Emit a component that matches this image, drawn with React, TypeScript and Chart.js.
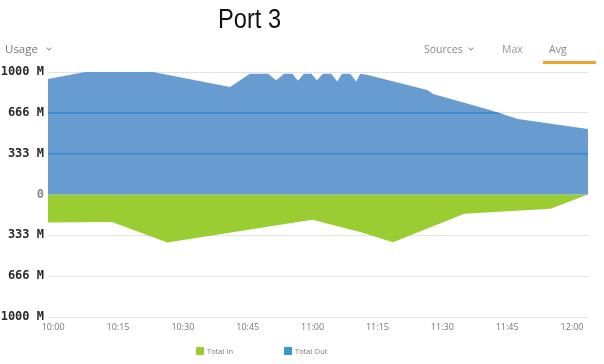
import React, { useEffect, useRef } from "react";
import { Chart, registerables } from "chart.js";

Chart.register(...registerables);

// Minutes after 10:00 for each sample of "Total Out"
const outMinutes = [-1.2, 7.4, 23.1, 40.9, 45.5, 49.7, 51.6, 53.4, 55.3, 56.6, 58.0, 59.7, 61.0, 62.4, 64.3, 65.7, 66.8, 68.7, 70.1, 71.0, 72.8, 86.5, 87.9, 101.0, 107.5, 123.7];
const outValues = [943, 1000, 1000, 878, 985, 985, 932, 985, 985, 928, 985, 985, 932, 985, 985, 922, 985, 985, 922, 985, 975, 853, 820, 690, 616, 535];

// Minutes after 10:00 for each sample of "Total In" (drawn downward)
const inMinutes = [-1.2, 13.6, 26.4, 59.9, 70.8, 78.6, 95.1, 115.0, 123.7];
const inValues = [-228, -225, -392, -207, -305, -390, -158, -116, 0];

const xTickMinutes = [0, 15, 30, 45, 60, 75, 90, 105, 120];
const xTickLabels = ["10:00", "10:15", "10:30", "10:45", "11:00", "11:15", "11:30", "11:45", "12:00"];

const yTickValues = [-1000, -666, -333, 0, 333, 666, 1000];
const yTickLabels = ["1000 M", "666 M", "333 M", "0", "333 M", "666 M", "1000 M"];
const yLineValues = [333, 666];

const seriesNames = ["Total In", "Total Out"];

const OUT_FILL = "#689cd0";
const IN_FILL = "#9acd32";
const OUT_LINE = "#3f8dcc";

// Grid lines that show as darker blue strokes inside the "Total Out" area only
const gridInsideOut = {
  id: "gridInsideOut",
  afterDatasetsDraw(chart: any) {
    const meta = chart.getDatasetMeta(0);
    const pts = meta.data;
    if (!pts || !pts.length) return;
    const y = chart.scales.y;
    const area = chart.chartArea;
    const base = y.getPixelForValue(0);
    const ctx = chart.ctx;
    ctx.save();
    ctx.beginPath();
    ctx.moveTo(pts[0].x, base);
    for (const p of pts) ctx.lineTo(p.x, p.y);
    ctx.lineTo(pts[pts.length - 1].x, base);
    ctx.closePath();
    ctx.clip();
    ctx.strokeStyle = OUT_LINE;
    ctx.lineWidth = 2;
    for (const v of yLineValues) {
      const py = y.getPixelForValue(v);
      ctx.beginPath();
      ctx.moveTo(area.left, py);
      ctx.lineTo(area.right, py);
      ctx.stroke();
    }
    ctx.restore();
  },
};

export default function App() {
  const ref = useRef<HTMLCanvasElement>(null);

  useEffect(() => {
    const chart = new Chart(ref.current!, {
      type: "line",
      data: {
        datasets: [
          {
            label: seriesNames[1],
            data: outMinutes.map((m, i) => ({ x: m, y: outValues[i] })),
            backgroundColor: OUT_FILL,
            borderWidth: 0,
            pointRadius: 0,
            fill: "origin",
            tension: 0,
          },
          {
            label: seriesNames[0],
            data: inMinutes.map((m, i) => ({ x: m, y: inValues[i] })),
            backgroundColor: IN_FILL,
            borderWidth: 0,
            pointRadius: 0,
            fill: "origin",
            tension: 0,
          },
        ],
      },
      options: {
        responsive: false,
        animation: false,
        devicePixelRatio: 1,
        layout: { padding: { top: 72, right: 16, bottom: 27, left: 0 } },
        plugins: {
          legend: { display: false },
          title: { display: false },
          tooltip: { enabled: false },
        },
        scales: {
          x: {
            type: "linear",
            min: -1.2,
            max: 123.7,
            afterBuildTicks: (s: any) => {
              s.ticks = xTickMinutes.map((v) => ({ value: v }));
            },
            afterFit: (s: any) => {
              s.height = 20;
            },
            grid: { display: false, drawTicks: false },
            border: { display: false },
            ticks: {
              padding: 5,
              maxRotation: 0,
              autoSkip: false,
              color: "#777",
              font: { family: "'Open Sans', sans-serif", size: 9 },
              callback: (v: any) => {
                const i = xTickMinutes.indexOf(Number(v));
                return i >= 0 ? xTickLabels[i] : "";
              },
            },
          },
          y: {
            type: "linear",
            min: -1000,
            max: 1000,
            afterBuildTicks: (s: any) => {
              s.ticks = yTickValues.map((v) => ({ value: v }));
            },
            afterFit: (s: any) => {
              s.width = 48;
            },
            border: { display: false },
            grid: {
              drawTicks: false,
              z: -1,
              color: (ctx: any) => (ctx.tick && ctx.tick.value === 0 ? "rgba(0,0,0,0)" : "#e4e4e4"),
              lineWidth: 1,
            },
            ticks: {
              padding: 4,
              color: (ctx: any) => (ctx.tick && ctx.tick.value === 0 ? "#888" : "#2a2a2a"),
              font: { family: "'DejaVu Sans Mono', monospace", size: 12, weight: "bold" },
              callback: (v: any) => {
                const i = yTickValues.indexOf(Number(v));
                return i >= 0 ? yTickLabels[i] : "";
              },
            },
          },
        },
      },
      plugins: [gridInsideOut],
    } as any);
    return () => chart.destroy();
  }, []);

  const small: React.CSSProperties = {
    position: "absolute",
    fontFamily: "'Open Sans', sans-serif",
    whiteSpace: "nowrap",
  };

  const chevron = (left: number, top: number): React.CSSProperties => ({
    position: "absolute",
    left,
    top,
    width: 3,
    height: 3,
    borderRight: "1.2px solid #999",
    borderBottom: "1.2px solid #999",
    transform: "rotate(45deg)",
  });

  return (
    <div
      style={{
        position: "absolute",
        left: 0,
        top: 0,
        width: 604,
        height: 364,
        background: "#fff",
        overflow: "hidden",
      }}
    >
      <canvas
        ref={ref}
        width={604}
        height={364}
        style={{ position: "absolute", left: 0, top: 0, width: 604, height: 364 }}
      />
      <div
        style={{
          position: "absolute",
          left: 218,
          top: 4,
          fontFamily: "'Liberation Sans', Arial, sans-serif",
          fontSize: 27,
          lineHeight: "30px",
          color: "#111",
          transform: "scaleX(0.875)",
          transformOrigin: "left top",
          whiteSpace: "nowrap",
        }}
      >
        Port 3
      </div>
      <div style={{ ...small, left: 5, top: 42, fontSize: 11.5, lineHeight: "14px", color: "#777" }}>Usage</div>
      <div style={chevron(47, 46)} />
      <div style={{ ...small, left: 424, top: 42, fontSize: 10.5, lineHeight: "14px", color: "#888" }}>Sources</div>
      <div style={chevron(469, 46)} />
      <div style={{ ...small, left: 502, top: 42, fontSize: 10.5, lineHeight: "14px", color: "#999" }}>Max</div>
      <div style={{ ...small, left: 549, top: 42, fontSize: 10.5, lineHeight: "14px", color: "#888" }}>Avg</div>
      <div style={{ position: "absolute", left: 543, top: 61, width: 53, height: 2.5, background: "#f0a32e" }} />

      <div style={{ position: "absolute", left: 196, top: 347, width: 8, height: 8, background: IN_FILL }} />
      <div style={{ ...small, left: 207, top: 346, fontSize: 7.5, lineHeight: "10px", color: "#777" }}>{seriesNames[0]}</div>
      <div style={{ position: "absolute", left: 284, top: 347, width: 8, height: 8, background: "#3b98d2" }} />
      <div style={{ ...small, left: 295, top: 346, fontSize: 7.5, lineHeight: "10px", color: "#777" }}>{seriesNames[1]}</div>
    </div>
  );
}
